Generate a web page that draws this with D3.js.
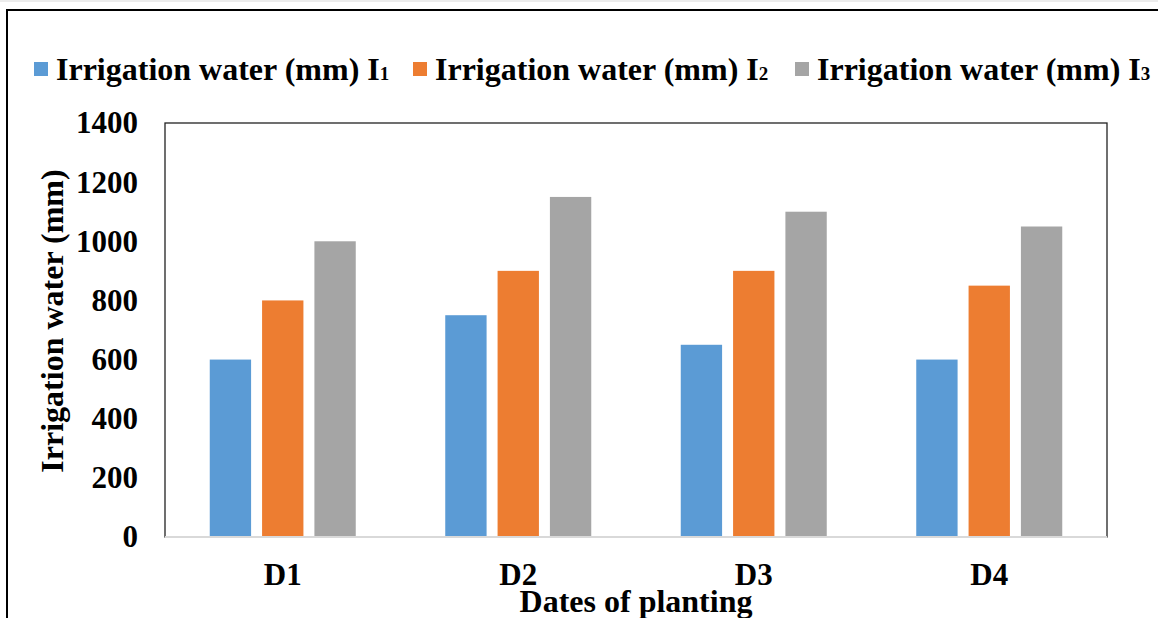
<!DOCTYPE html>
<html>
<head>
<meta charset="utf-8">
<script src="https://cdn.jsdelivr.net/npm/d3@7"></script>
<style>
  body { margin: 0; background: #fff; }
  svg { display: block; }
</style>
</head>
<body>
<div id="chart"></div>
<script>
// Chart data
const dates = ["D1", "D2", "D3", "D4"];
const seriesNames = ["I1", "I2", "I3"];
const seriesSubs = ["1", "2", "3"];
const valuesI1 = [600, 750, 650, 600];
const valuesI2 = [800, 900, 900, 850];
const valuesI3 = [1000, 1150, 1100, 1050];
const yTicks = [0, 200, 400, 600, 800, 1000, 1200, 1400];
const colors = ["#5B9BD5", "#ED7D31", "#A5A5A5"];

const width = 1158;
const height = 618;
const marginLeft = 165;
const marginRight = 51;
const marginTop = 123;
const plotBottom = 537;
const font = "'Liberation Serif', 'Times New Roman', serif";

const table = dates.map((d, i) => ({
  date: d,
  vals: [valuesI1[i], valuesI2[i], valuesI3[i]]
}));

const svg = d3.select("#chart").append("svg")
    .attr("width", width)
    .attr("height", height)
    .attr("viewBox", [0, 0, width, height]);

// outer frame (runs off the right and bottom of the picture)
svg.append("line")
    .attr("x1", 0).attr("x2", width).attr("y1", 1).attr("y2", 1)
    .attr("stroke", "#d9d9d9");
svg.append("rect")
    .attr("x", 7).attr("y", 10)
    .attr("width", 1300).attr("height", 800)
    .attr("fill", "none")
    .attr("stroke", "#000")
    .attr("stroke-width", 2);

// scales
const x0 = d3.scaleBand()
    .domain(dates)
    .range([marginLeft, width - marginRight]);

const x1 = d3.scaleBand()
    .domain(seriesNames)
    .range([x0.bandwidth() / 2 - 73, x0.bandwidth() / 2 + 73])
    .paddingInner(0.21);

const y = d3.scaleLinear()
    .domain([0, 1400])
    .range([plotBottom, marginTop]);

// plot border
svg.append("rect")
    .attr("x", marginLeft).attr("y", marginTop)
    .attr("width", width - marginRight - marginLeft)
    .attr("height", plotBottom - marginTop)
    .attr("fill", "none")
    .attr("stroke", "#222")
    .attr("stroke-width", 1.3);

// bars
svg.append("g")
  .selectAll("g")
  .data(table)
  .join("g")
    .attr("transform", d => `translate(${x0(d.date)},0)`)
  .selectAll("rect")
  .data(d => d.vals.map((v, i) => ({ key: seriesNames[i], value: v, i })))
  .join("rect")
    .attr("x", d => x1(d.key))
    .attr("y", d => y(d.value))
    .attr("width", x1.bandwidth())
    .attr("height", d => y(0) - y(d.value))
    .attr("fill", d => colors[d.i]);

// bottom axis line (light gray)
svg.append("line")
    .attr("x1", marginLeft).attr("x2", width - marginRight)
    .attr("y1", plotBottom).attr("y2", plotBottom)
    .attr("stroke", "#d9d9d9")
    .attr("stroke-width", 2);

// y axis
svg.append("g")
    .attr("transform", `translate(${marginLeft},0)`)
    .call(d3.axisLeft(y).tickValues(yTicks).tickFormat(d3.format("d")).tickSize(0).tickPadding(27))
    .call(g => g.select(".domain").remove())
    .call(g => g.selectAll(".tick text")
        .attr("font-family", font)
        .attr("font-weight", "bold")
        .attr("font-size", 31)
        .attr("fill", "#000"));

// x axis
svg.append("g")
    .attr("transform", `translate(0,${plotBottom})`)
    .call(d3.axisBottom(x0).tickSize(0).tickPadding(26))
    .call(g => g.select(".domain").remove())
    .call(g => g.selectAll(".tick text")
        .attr("font-family", font)
        .attr("font-weight", "bold")
        .attr("font-size", 31)
        .attr("fill", "#000"));

// axis titles
svg.append("text")
    .attr("transform", `translate(63,${(marginTop + plotBottom) / 2 - 9}) rotate(-90)`)
    .attr("text-anchor", "middle")
    .attr("font-family", font)
    .attr("font-weight", "bold")
    .attr("font-size", 32)
    .text("Irrigation water (mm)");

svg.append("text")
    .attr("x", (marginLeft + width - marginRight) / 2)
    .attr("y", 612)
    .attr("text-anchor", "middle")
    .attr("font-family", font)
    .attr("font-weight", "bold")
    .attr("font-size", 32)
    .text("Dates of planting");

// legend
const legendX = [34, 413, 795];
const legend = svg.append("g")
  .selectAll("g")
  .data(seriesNames)
  .join("g")
    .attr("transform", (d, i) => `translate(${legendX[i]},62)`);

legend.append("rect")
    .attr("width", 14).attr("height", 14)
    .attr("fill", (d, i) => colors[i]);

const lt = legend.append("text")
    .attr("x", 22)
    .attr("y", 18)
    .attr("font-family", font)
    .attr("font-weight", "bold")
    .attr("font-size", 32)
    .attr("fill", "#000");
lt.append("tspan").text("Irrigation water (mm) I");
lt.append("tspan")
    .attr("font-size", 19)
    .text((d, i) => seriesSubs[i]);
</script>
</body>
</html>
